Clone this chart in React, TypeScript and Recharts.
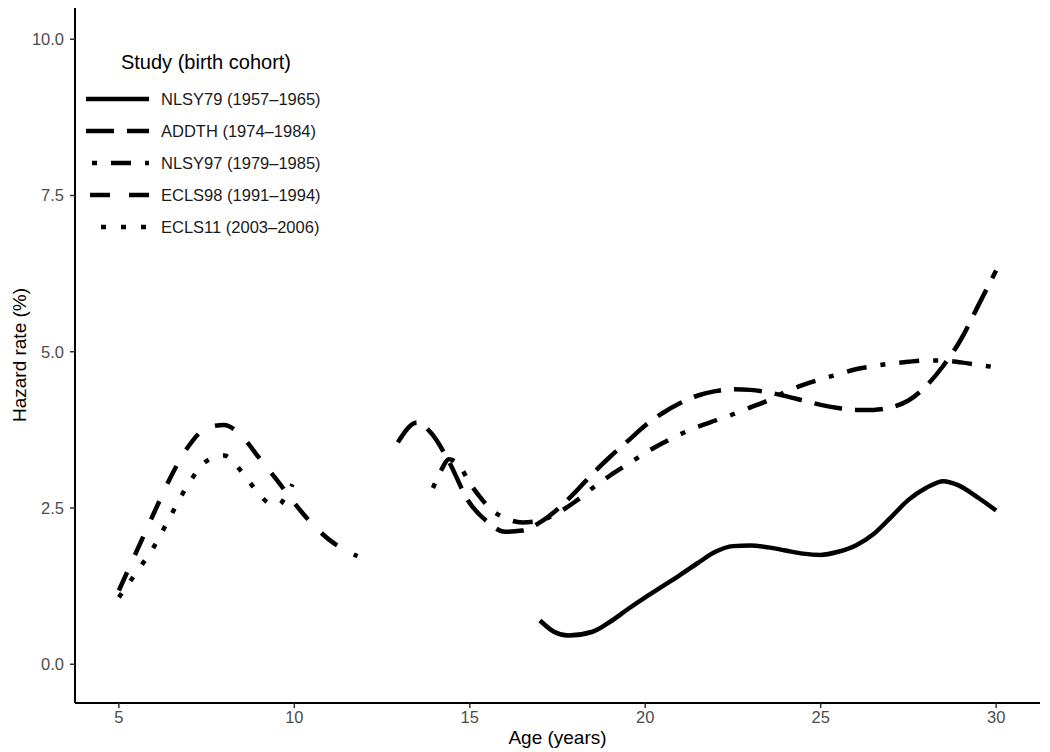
import { LineChart, Line, XAxis, YAxis, Legend } from "recharts";

// hazard rate (%) by age
const xTicks = [5, 10, 15, 20, 25, 30];
const yTicks = [0, 2.5, 5, 7.5, 10];

const nlsy79Ages = [17, 17.4, 17.8, 18.5, 19, 19.5, 20, 20.5, 21, 21.5, 22, 22.5, 23, 23.5, 24, 24.5, 25, 25.5, 26, 26.5, 27, 27.5, 28, 28.5, 28.9, 29.5, 30];
const nlsy79Rates = [0.7, 0.52, 0.46, 0.52, 0.68, 0.88, 1.07, 1.25, 1.43, 1.62, 1.8, 1.89, 1.9, 1.87, 1.82, 1.77, 1.75, 1.8, 1.9, 2.08, 2.35, 2.63, 2.82, 2.93, 2.87, 2.66, 2.46];

const addthAges = [12.95, 13.5, 13.9, 14.4, 14.95, 15.5, 16, 16.5, 17, 17.5, 18, 18.5, 19, 19.5, 20, 20.5, 21, 21.5, 22, 22.5, 23, 23.5, 24, 24.5, 25, 25.5, 26, 26.5, 27, 27.5, 28, 28.5, 29, 29.5, 30];
const addthRates = [3.55, 3.87, 3.7, 3.25, 2.62, 2.28, 2.12, 2.14, 2.27, 2.48, 2.75, 3.05, 3.32, 3.57, 3.82, 4.02, 4.18, 4.3, 4.37, 4.4, 4.39, 4.35, 4.29, 4.22, 4.15, 4.1, 4.07, 4.07, 4.11, 4.22, 4.45, 4.78, 5.2, 5.75, 6.3];

const nlsy97Ages = [13.95, 14.2, 14.4, 14.7, 15, 15.3, 15.6, 16, 16.5, 17, 17.5, 18, 18.5, 19, 19.5, 20, 20.5, 21, 21.5, 22, 22.5, 23, 23.5, 24, 24.5, 25, 25.5, 26, 26.5, 27, 27.5, 28, 28.5, 29, 29.5, 30];
const nlsy97Rates = [2.82, 3.12, 3.28, 3.18, 2.9, 2.67, 2.48, 2.34, 2.27, 2.3, 2.42, 2.6, 2.82, 3.02, 3.2, 3.38, 3.54, 3.68, 3.8, 3.9, 4.0, 4.11, 4.22, 4.36, 4.47, 4.56, 4.64, 4.72, 4.77, 4.81, 4.84, 4.86, 4.86, 4.83, 4.79, 4.75];

const ecls98Ages = [5, 5.5, 6, 6.5, 7, 7.5, 8, 8.5, 9, 9.5, 10, 10.5, 11, 11.5, 11.8];
const ecls98Rates = [1.18, 1.8, 2.42, 3.02, 3.5, 3.78, 3.83, 3.65, 3.3, 2.95, 2.58, 2.25, 1.99, 1.81, 1.73];

const ecls11Ages = [5, 5.5, 6, 6.5, 7, 7.5, 8, 8.5, 9, 9.3, 9.55, 9.75, 9.95];
const ecls11Rates = [1.07, 1.47, 1.88, 2.4, 2.9, 3.25, 3.34, 3.08, 2.72, 2.57, 2.55, 2.68, 2.88];

const zip = (ages: number[], rates: number[]) =>
  ages.map((age, i) => ({ age, rate: rates[i] }));

const series = [
  { name: "NLSY79 (1957\u20131965)", data: zip(nlsy79Ages, nlsy79Rates), dash: undefined, keyOffset: 0 },
  { name: "ADDTH (1974\u20131984)", data: zip(addthAges, addthRates), dash: "28 13", keyOffset: 0 },
  { name: "NLSY97 (1979\u20131985)", data: zip(nlsy97Ages, nlsy97Rates), dash: "5 14 20 14", keyOffset: 47 },
  { name: "ECLS98 (1991\u20131994)", data: zip(ecls98Ages, ecls98Rates), dash: "20 19", keyOffset: 35 },
  { name: "ECLS11 (2003\u20132006)", data: zip(ecls11Ages, ecls11Rates), dash: "5 15", keyOffset: 5 },
];

const FONT = "'Liberation Sans', Arial, sans-serif";

function StudyLegend() {
  return (
    <svg width={260} height={210} style={{ fontFamily: FONT }}>
      <text x={126} y={22} textAnchor="middle" dominantBaseline="central" fontSize={20} fill="#000">
        Study (birth cohort)
      </text>
      {series.map((s, i) => {
        const y = 59 + i * 32;
        return (
          <g key={s.name}>
            <line
              x1={6}
              x2={69}
              y1={y}
              y2={y}
              stroke="#000"
              strokeWidth={4.5}
              strokeDasharray={s.dash}
              strokeDashoffset={s.keyOffset}
            />
            <text x={81} y={y} dominantBaseline="central" fontSize={16.5} fill="#1a1a1a">
              {s.name}
            </text>
          </g>
        );
      })}
    </svg>
  );
}

export default function App() {
  return (
    <div style={{ position: "absolute", left: 0, top: 0, background: "#fff" }}>
      <LineChart
        width={1050}
        height={752}
        margin={{ top: 8, right: 10, bottom: 0, left: 0 }}
      >
        <XAxis
          dataKey="age"
          type="number"
          domain={[3.75, 31.25]}
          ticks={xTicks}
          allowDataOverflow
          height={49}
          stroke="#000"
          strokeWidth={2}
          tickSize={5}
          tickMargin={3}
          tickLine={{ stroke: "#333", strokeWidth: 1.5 }}
          tick={{ fill: "#4d4d4d", fontSize: 16.5, fontFamily: FONT }}
          label={{
            value: "Age (years)",
            position: "insideBottom",
            offset: 8,
            style: { fill: "#000", fontSize: 19, fontFamily: FONT },
          }}
        />
        <YAxis
          dataKey="rate"
          type="number"
          domain={[-0.62, 10.5]}
          ticks={yTicks}
          allowDataOverflow
          width={75}
          stroke="#000"
          strokeWidth={2}
          tickSize={5}
          tickMargin={6}
          tickLine={{ stroke: "#333", strokeWidth: 1.5 }}
          tickFormatter={(v: number) => v.toFixed(1)}
          tick={{ fill: "#4d4d4d", fontSize: 16.5, fontFamily: FONT }}
          label={{
            content: () => (
              <text
                x={19}
                y={355}
                transform="rotate(-90, 19, 355)"
                textAnchor="middle"
                dominantBaseline="central"
                fontSize={19}
                fontFamily={FONT}
                fill="#000"
              >
                Hazard rate (%)
              </text>
            ),
          }}
        />
        <Legend
          layout="vertical"
          align="center"
          verticalAlign="middle"
          content={() => <StudyLegend />}
          wrapperStyle={{ left: 80, top: 40, width: 260, height: 210 }}
        />
        {series.map((s) => (
          <Line
            key={s.name}
            data={s.data}
            dataKey="rate"
            name={s.name}
            type="monotone"
            stroke="#000"
            strokeWidth={4.5}
            strokeDasharray={s.dash}
            dot={false}
            activeDot={false}
            isAnimationActive={false}
          />
        ))}
      </LineChart>
    </div>
  );
}
